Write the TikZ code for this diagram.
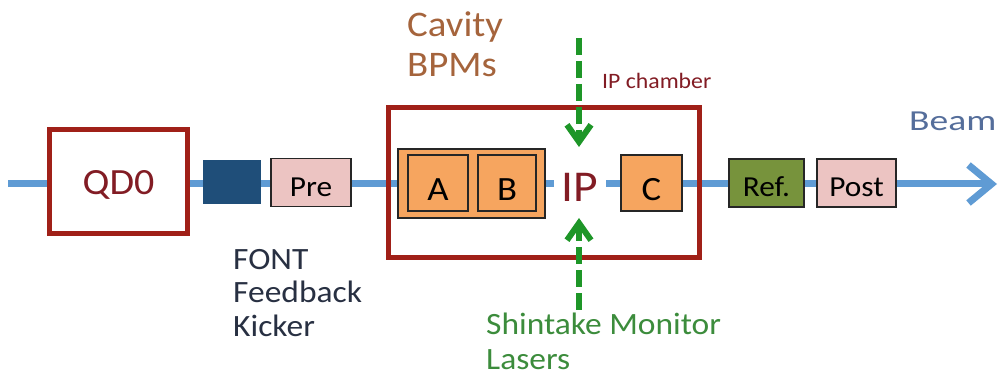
\documentclass[tikz,border=0pt]{standalone}
\usepackage{fontspec}
\usepackage{graphicx}
\setmainfont{Carlito}[FakeStretch=1.08]
\usetikzlibrary{arrows.meta}
\definecolor{dred}{RGB}{160,32,24}
\definecolor{dredtxt}{RGB}{130,28,36}
\definecolor{beamblue}{RGB}{95,155,212}
\definecolor{kickblue}{RGB}{31,78,121}
\definecolor{pinkfill}{RGB}{236,196,194}
\definecolor{orangefill}{RGB}{246,165,95}
\definecolor{olivefill}{RGB}{119,147,60}
\definecolor{lasergreen}{RGB}{30,150,40}
\definecolor{lasertxt}{RGB}{60,140,60}
\definecolor{bpmbrown}{RGB}{165,100,60}
\definecolor{beamtxt}{RGB}{85,110,155}
\definecolor{fonttxt}{RGB}{40,48,66}
\begin{document}
\begin{tikzpicture}[x=1pt,y=-1pt,
  box/.style={draw=black!85, line width=1.6pt, inner sep=0pt, anchor=center},
  smallbox/.style={box, minimum height=48pt, font=\fontsize{29}{30}\selectfont, text height=28pt, text depth=0pt},
  bpmbox/.style={box, fill=orangefill, minimum height=56pt, font=\fontsize{34}{36}\selectfont, text height=36pt, text depth=0pt},
  laser/.style={draw=lasergreen, line width=6pt, dash pattern=on 17pt off 6pt, -{Straight Barb[length=17pt,width=24pt]}},
  lbl/.style={inner sep=0pt},
]
\useasboundingbox (0,0) rectangle (999,379);

% beam line
\coordinate (bstart) at (8,184);
\coordinate (bend) at (997,184);
\draw[beamblue, line width=7pt, -{Straight Barb[length=23pt,width=38pt]}] (bstart) -- (bend);

% QD0
\node[draw=dred, line width=5pt, fill=white, inner sep=0pt, minimum width=138pt, minimum height=104pt,
      text=dredtxt, font=\fontsize{37}{40}\selectfont, text height=27pt, text depth=0pt] (qd0) at (118.5,181.5) {QD0};

% kicker
\node[fill=kickblue, minimum width=58pt, minimum height=44pt, inner sep=0pt] (kick) at (232,182) {};

% Pre
\node[smallbox, fill=pinkfill, minimum width=80pt] (pre) at (311,182.5) {Pre};

% IP chamber
\node[draw=dred, line width=5pt, minimum width=311pt, minimum height=150pt, inner sep=0pt] (chamber) at (543.5,183) {};

% cavity BPMs
\node[box, fill=orangefill, minimum width=147pt, minimum height=69pt] (ab) at (471.5,183.5) {};
\node[bpmbox, minimum width=60pt] (a) at (438,183) {A};
\node[bpmbox, minimum width=58pt] (b) at (507,183) {B};
\node[bpmbox, minimum width=61pt] (c) at (651.5,183) {C};

% IP
\node[font=\fontsize{44}{48}\selectfont, text=dredtxt, fill=white, inner xsep=8pt, inner ysep=1pt] (ip) at (580,187.5) {IP};

% Ref and Post
\node[smallbox, fill=olivefill, minimum width=75pt] (ref) at (766.5,183) {Ref.};
\node[smallbox, fill=pinkfill, minimum width=79pt] (post) at (856.5,183) {Post};

% lasers
\coordinate (ltop) at (579,38);
\coordinate (ltoptip) at (579,147);
\coordinate (lbot) at (579,310);
\coordinate (lbottip) at (579,218);
\draw[laser] (ltop) -- (ltoptip);
\draw[laser] (lbot) -- (lbottip);

% labels
\node[lbl, font=\fontsize{36}{40}\selectfont, text=bpmbrown, align=left, anchor=north west] (cav) at (407,12) {Cavity\\BPMs};
\node[lbl, font=\fontsize{22}{24}\selectfont, text=dredtxt, anchor=base west] (ipc) at (602,89) {IP chamber};
\node[lbl, font=\fontsize{29}{30}\selectfont, text=beamtxt, anchor=base west] (beamlbl) at (909,131) {\scalebox{1.2}[1]{Beam}};
\node[lbl, font=\fontsize{31}{33.5}\selectfont, text=fonttxt, align=left, anchor=north west] (fontlbl) at (233,249) {FONT\\Feedback\\Kicker};
\node[lbl, font=\fontsize{31}{35}\selectfont, text=lasertxt, align=left, anchor=north west] (shin) at (486,313) {Shintake Monitor\\Lasers};
\end{tikzpicture}
\end{document}
